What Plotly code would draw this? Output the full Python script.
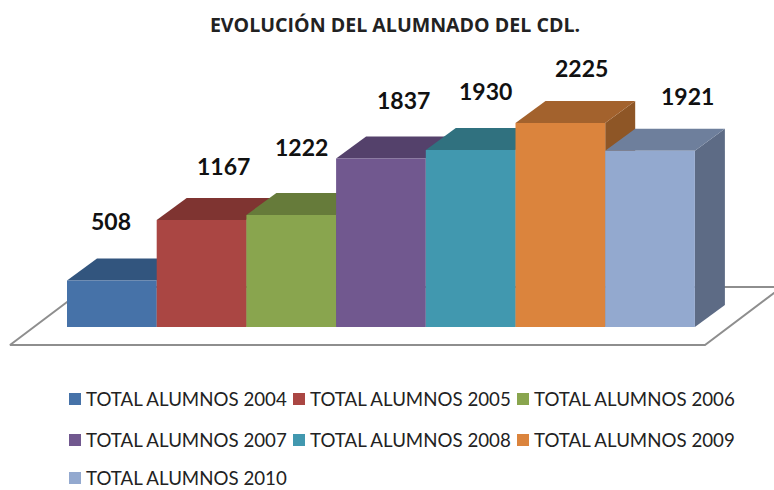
import plotly.graph_objects as go

TITLE = "EVOLUCIÓN DEL ALUMNADO DEL CDL."
names = ["TOTAL ALUMNOS 2004", "TOTAL ALUMNOS 2005", "TOTAL ALUMNOS 2006", "TOTAL ALUMNOS 2007",
         "TOTAL ALUMNOS 2008", "TOTAL ALUMNOS 2009", "TOTAL ALUMNOS 2010"]
values = [508, 1167, 1222, 1837, 1930, 2225, 1921]
front = ["#4672A8", "#AA4643", "#89A54E", "#71588F", "#4198AF", "#DB843D", "#93A9CF"]
top = ["#32557E", "#7F3431", "#667B3A", "#54416B", "#30717F", "#A3622D", "#6E7F9C"]
side = ["#2C4A6E", "#6F2D2B", "#596B33", "#49395D", "#2A626F", "#8E5626", "#5D6B85"]
label_dx = [-1, 22, 10, 23, 15, 21, 37]
label_dy = [59, 54, 68, 59, 59, 55, 55]
legend_x = [69, 293, 517, 69, 293, 517, 69]
legend_y = [399, 399, 399, 440, 440, 440, 478]

# axis scale: 89.7 px per bar, 0.0917 px per pupil
W, H = 774, 490
XR = [-67 / 89.7, (W - 67) / 89.7]
YR = [-163 / 0.0917, 327 / 0.0917]
DX, DY = 30 / 89.7, 22 / 0.0917
FY0, FY1 = -18 / 0.0917, 40 / 0.0917
FX0, FX1 = -57 / 89.7, 638 / 89.7
FDX = 77 / 89.7

fig = go.Figure()
# floor
fig.add_trace(go.Scatter(
    x=[FX0 + FDX, FX0, FX1, FX1 + FDX, FX0 + FDX], y=[FY1, FY0, FY0, FY1, FY1],
    mode="lines", line=dict(color="#8E8E8E", width=2), showlegend=False, hoverinfo="skip"))
# depth faces
for i, v in enumerate(values):
    fig.add_trace(go.Scatter(
        x=[i + 1, i + 1 + DX, i + 1 + DX, i + 1, i + 1], y=[0, DY, v + DY, v, 0],
        mode="lines", fill="toself", fillcolor=side[i], line=dict(width=0),
        showlegend=False, hoverinfo="skip"))
    fig.add_trace(go.Scatter(
        x=[i, i + DX, i + 1 + DX, i + 1, i], y=[v, v + DY, v + DY, v, v],
        mode="lines", fill="toself", fillcolor=top[i], line=dict(width=0),
        showlegend=False, hoverinfo="skip"))
# front faces
for i, v in enumerate(values):
    fig.add_trace(go.Bar(
        x=[i + 0.5], y=[v], width=1, name=names[i], marker=dict(color=front[i], line=dict(width=0)),
        xaxis="x2", yaxis="y2", showlegend=False))
for i, v in enumerate(values):
    fig.add_annotation(x=i + 0.5, y=v, xref="x", yref="y", text=f"<b>{v}</b>", showarrow=False,
                       xshift=label_dx[i], yshift=label_dy[i],
                       font=dict(family="Lato", size=23, color="#111111"))
# legend
for i, name in enumerate(names):
    lx, ly = legend_x[i], legend_y[i]
    fig.add_shape(type="rect", xref="paper", yref="paper", x0=lx / W, x1=(lx + 12) / W,
                  y0=1 - (ly + 6) / H, y1=1 - (ly - 6) / H, fillcolor=front[i], line=dict(width=0))
    fig.add_annotation(x=(lx + 16) / W, y=1 - ly / H, xref="paper", yref="paper", text=name,
                       showarrow=False, xanchor="left", yanchor="middle",
                       font=dict(family="Lato", size=18.7, color="#222222"), borderpad=0)

axis = dict(visible=False, fixedrange=True)
fig.update_layout(
    width=W, height=H, margin=dict(l=0, r=0, t=0, b=0), autosize=False, showlegend=False,
    paper_bgcolor="white", plot_bgcolor="white", barmode="overlay",
    title=dict(text=f"<b>{TITLE}</b>", x=395 / W, y=1 - 25 / H, xanchor="center", yanchor="middle",
               font=dict(family="Open Sans", size=19.6, color="#222222")),
    xaxis=dict(range=XR, **axis), yaxis=dict(range=YR, **axis),
    xaxis2=dict(range=XR, overlaying="x", **axis), yaxis2=dict(range=YR, overlaying="y", **axis),
)
fig.write_html("out.html", config={"displayModeBar": False},
               post_script="document.body.style.margin = '0';")
